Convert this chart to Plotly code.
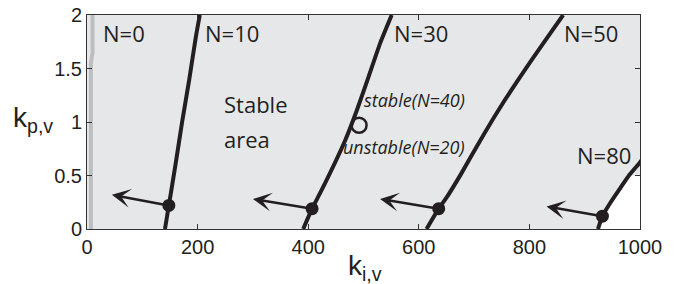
import plotly.graph_objects as go

# ---- data ----
n0_ki = [7, 7, 7, 10, 10]
n0_kp = [0, 0.8, 1.55, 1.65, 2.0]

n10_ki = [141, 148, 160, 172, 185, 197, 204]
n10_kp = [0, 0.22, 0.6, 1.0, 1.4, 1.8, 2.0]

n30_ki = [391, 407, 421, 442, 467, 488, 509, 530, 551]
n30_kp = [0, 0.19, 0.33, 0.55, 0.83, 1.11, 1.42, 1.735, 2.0]

n50_ki = [614, 636, 651, 677, 708, 744, 783, 825, 861]
n50_kp = [0, 0.19, 0.30, 0.52, 0.80, 1.11, 1.42, 1.735, 2.0]

n80_ki = [924, 932, 947, 964, 980, 998, 1004]
n80_kp = [0, 0.12, 0.25, 0.38, 0.50, 0.61, 0.65]

dot_ki = [148, 407, 636, 932]
dot_kp = [0.22, 0.19, 0.19, 0.12]
arrow_tip_ki = [45, 300, 530, 831]
arrow_tip_kp = [0.32, 0.28, 0.28, 0.21]

test_ki = [492]
test_kp = [0.97]

labels = ["N=0", "N=10", "N=30", "N=50", "N=80"]
label_ki = [66, 263, 604, 912, 934]
label_kp = [1.83, 1.83, 1.83, 1.83, 0.69]

x_ticks = [0, 200, 400, 600, 800, 1000]
y_ticks = [0, 0.5, 1, 1.5, 2]
y_tick_text = ["0", "0.5", "1", "1.5", "2"]

# ---- figure ----
BLACK = "#231f20"
fig = go.Figure()

# white unstable corner below N=80 curve (kp <= 0.5)
wk = [k for k, p in zip(n80_ki, n80_kp) if p <= 0.5]
wp = [p for p in n80_kp if p <= 0.5]
fig.add_trace(go.Scatter(x=wk + [x_ticks[-1], x_ticks[-1]], y=wp + [wp[-1], 0],
                         fill="toself", fillcolor="white", mode="none",
                         hoverinfo="skip", showlegend=False))

fig.add_trace(go.Scatter(x=n0_ki, y=n0_kp, mode="lines",
                         line=dict(color="#bcbec0", width=4), showlegend=False))
for kx, ky in [(n10_ki, n10_kp), (n30_ki, n30_kp), (n50_ki, n50_kp), (n80_ki, n80_kp)]:
    fig.add_trace(go.Scatter(x=kx, y=ky, mode="lines",
                             line=dict(color=BLACK, width=4, shape="spline",
                                       smoothing=0.5),
                             showlegend=False))

fig.add_trace(go.Scatter(x=dot_ki, y=dot_kp, mode="markers",
                         marker=dict(color=BLACK, size=13), showlegend=False))
fig.add_trace(go.Scatter(x=test_ki, y=test_kp, mode="markers",
                         marker=dict(symbol="circle-open", color=BLACK, size=15,
                                     line=dict(width=2.5)), showlegend=False))

for tx, ty, dx, dy in zip(arrow_tip_ki, arrow_tip_kp, dot_ki, dot_kp):
    fig.add_annotation(x=tx, y=ty, ax=dx, ay=dy, xref="x", yref="y",
                       axref="x", ayref="y", text="", showarrow=True,
                       arrowhead=3, arrowsize=1.25, arrowwidth=2.5,
                       arrowcolor=BLACK, standoff=0, startstandoff=0)

LBL = dict(family="Open Sans, sans-serif", size=22, color=BLACK)
for t, x, y in zip(labels, label_ki, label_kp):
    fig.add_annotation(x=x, y=y, text=t, showarrow=False, font=LBL,
                       xanchor="center", yanchor="middle")

fig.add_annotation(x=244, y=1.17, text="Stable", showarrow=False, font=LBL,
                   xanchor="left", yanchor="middle")
fig.add_annotation(x=244, y=0.84, text="area", showarrow=False, font=LBL,
                   xanchor="left", yanchor="middle")

IT = dict(family="Open Sans, sans-serif", size=18, color=BLACK)
fig.add_annotation(x=497, y=1.21, text="<i>stable(N=40)</i>", showarrow=False,
                   font=IT, xanchor="left", yanchor="middle")
fig.add_annotation(x=459, y=0.77, text="<i>unstable(N=20)</i>", showarrow=False,
                   font=IT, xanchor="left", yanchor="middle")

AX = dict(family="Liberation Sans, Arial, sans-serif", size=28, color=BLACK)
fig.add_annotation(x=-0.098, y=0.51, xref="paper", yref="paper",
                   text="k<sub>p,v</sub>", showarrow=False, font=AX,
                   xanchor="center", yanchor="middle")
fig.add_annotation(x=0.503, y=-0.18, xref="paper", yref="paper",
                   text="k<sub>i,v</sub>", showarrow=False, font=AX,
                   xanchor="center", yanchor="middle")

TICKF = dict(family="Liberation Sans, Arial, sans-serif", size=20, color=BLACK)
common = dict(ticks="inside", ticklen=5, tickcolor="#333", showline=True,
              linecolor="#333", linewidth=1, mirror="ticks", showgrid=False,
              zeroline=False, tickfont=TICKF, automargin=False)
fig.update_xaxes(range=[0, 1000], tickvals=x_ticks,
                 ticktext=[str(v) for v in x_ticks], **common)
fig.update_yaxes(range=[0, 2], tickvals=y_ticks, ticktext=y_tick_text, **common)

fig.update_layout(width=684, height=284, margin=dict(l=87, r=44, t=15, b=55),
                  plot_bgcolor="#e6e7e8", paper_bgcolor="white",
                  showlegend=False)

fig.write_html("out.html", config={"displayModeBar": False},
               post_script="document.body.style.margin='0';document.body.style.overflow='hidden';")
